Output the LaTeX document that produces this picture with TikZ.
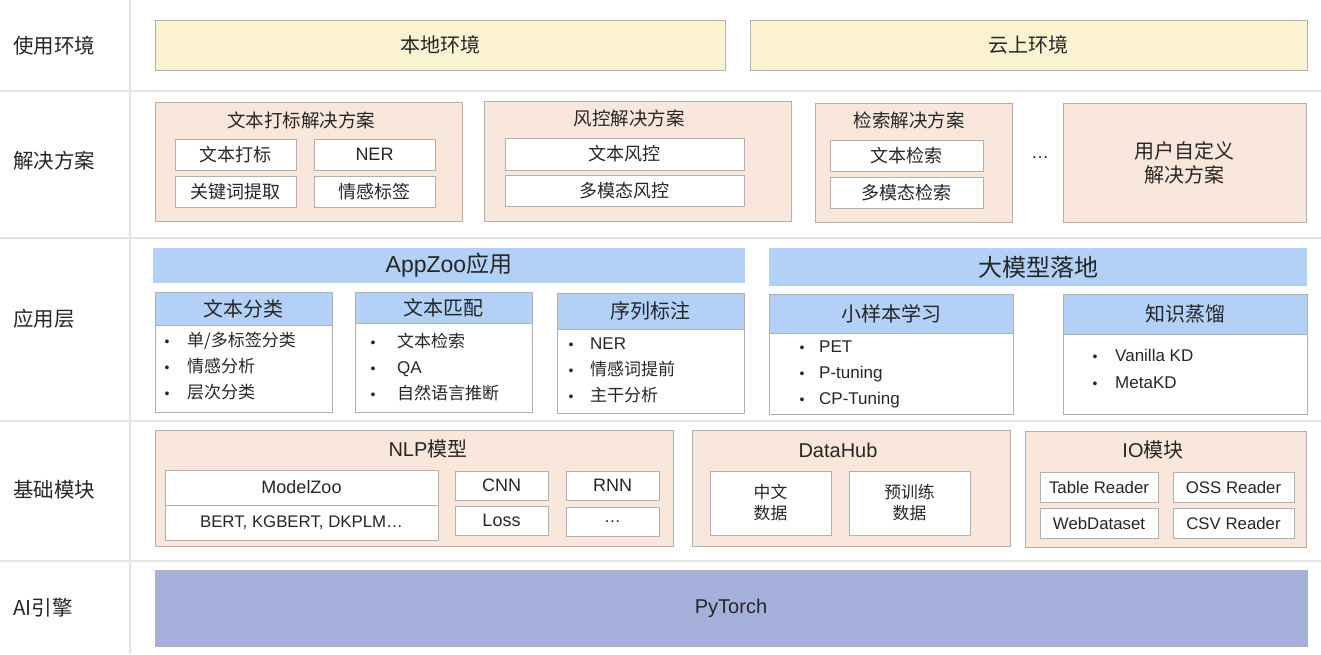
\documentclass[tikz,border=0pt]{standalone}
\usepackage{fontspec}
\setmainfont{Liberation Sans}
\newfontfamily\cjk{Noto Sans CJK SC}
\definecolor{peach}{HTML}{F8E7DA}
\definecolor{yel}{HTML}{FBF2D1}
\definecolor{lblue}{HTML}{B3D0F6}
\definecolor{torch}{HTML}{A4B0DA}
\definecolor{bord}{HTML}{B0B0B0}
\definecolor{sepc}{HTML}{E4E4E4}
\definecolor{txt}{HTML}{262626}
\newcommand\fLbl{\fontsize{20.5}{24}\selectfont}
\newcommand\fEnv{\fontsize{20}{24}\selectfont}
\newcommand\fIn{\fontsize{18}{21}\selectfont}
\newcommand\fTi{\fontsize{18.5}{22}\selectfont}
\newcommand\fTb{\fontsize{20}{24}\selectfont}
\newcommand\fSm{\fontsize{16.8}{21}\selectfont}
\newcommand\fBl{\fontsize{17}{20}\selectfont}
\newcommand\fHd{\fontsize{20}{24}\selectfont}
\newcommand\bx[7]{\node[#2, anchor=north west, minimum width={(#5-#3)*1pt}, minimum height={(#6-#4)*1pt}] (#1) at (#3,#4) {#7};}
\newcommand\card[7]{%
  \bx{#1}{wbox}{#2}{#3}{#4}{#5}{}
  \bx{#1h}{hbox}{#2}{#3}{#4}{#6}{\fHd\cjk #7}}
\newcommand\blt[5]{\node[txtn, anchor=base, font=\fontsize{14}{16}\selectfont] (#1) at (#2,#4+6) {•};
  \node[txtn, anchor=base west, font=\fBl] (#1t) at (#3,#4+6) {#5};}
\begin{document}
\begin{tikzpicture}[x=1pt,y=-1pt,
  base/.style={draw=bord, line width=0.8pt, inner sep=0pt, outer sep=0pt, text=txt, align=center},
  ybox/.style={base, fill=yel, font=\fEnv\cjk},
  pbox/.style={base, fill=peach, font=\fIn},
  wbox/.style={base, fill=white, font=\fIn},
  hbox/.style={base, fill=lblue},
  bbar/.style={base, draw=none, fill=lblue},
  tbox/.style={base, fill=torch, font=\fHd},
  txtn/.style={inner sep=0pt, text=txt},
  lbl/.style={txtn, anchor=west, font=\fLbl\cjk},
  sepline/.style={draw=sepc, line width=1.2pt}]
\useasboundingbox (0,0) rectangle (1321,654);
\fill[white] (0,0) rectangle (1321,654);
% separators
\draw[sepline] (0,91) -- (1321,91);
\draw[sepline] (0,238) -- (1321,238);
\draw[sepline] (0,421) -- (1321,421);
\draw[sepline] (0,561) -- (1321,561);
\draw[sepline] (130,0) -- (130,654);
% row labels
\node[lbl] (l1) at (13,46) {使用环境};
\node[lbl] (l2) at (13,161) {解决方案};
\node[lbl] (l3) at (13,319) {应用层};
\node[lbl] (l4) at (13,490) {基础模块};
\node[lbl] (l5) at (13,608) {AI{\cjk 引擎}};
% row 1
\bx{env1}{ybox}{155}{20}{725}{70}{本地环境}
\bx{env2}{ybox}{750}{20}{1307}{70}{云上环境}
% row 2
\bx{s1}{pbox}{155}{102}{462}{221}{}
\node[txtn, font=\fTi\cjk] (s1t) at (301,120) {文本打标解决方案};
\bx{s1a}{wbox}{175}{139}{296}{170}{\cjk 文本打标}
\bx{s1b}{wbox}{314}{139}{435}{170}{NER}
\bx{s1c}{wbox}{175}{176}{296}{207}{\cjk 关键词提取}
\bx{s1d}{wbox}{314}{176}{435}{207}{\cjk 情感标签}
\bx{s2}{pbox}{484}{101}{791}{221}{}
\node[txtn, font=\fTi\cjk] (s2t) at (629,118) {风控解决方案};
\bx{s2a}{wbox}{505}{138}{744}{170}{\cjk 文本风控}
\bx{s2b}{wbox}{505}{175}{744}{206}{\cjk 多模态风控}
\bx{s3}{pbox}{815}{103}{1012}{222}{}
\node[txtn, font=\fTi\cjk] (s3t) at (909,120) {检索解决方案};
\bx{s3a}{wbox}{830}{140}{983}{171}{\cjk 文本检索}
\bx{s3b}{wbox}{830}{177}{983}{208}{\cjk 多模态检索}
\node[txtn, font=\fIn] (dots) at (1040,158) {…};
\bx{s4}{pbox,font=\fTb\cjk}{1063}{103}{1306}{222}{用户自定义\\解决方案}
% row 3
\bx{az}{bbar}{153}{248}{745}{283}{\fontsize{23}{26}\selectfont AppZoo{\cjk 应用}}
\bx{lm}{bbar}{769}{248}{1307}{286}{\fontsize{24}{27}\selectfont\cjk 大模型落地}
\card{c1}{155}{292}{332}{412}{325}{文本分类}
\blt{c1a}{167}{187}{340}{\cjk 单/多标签分类}
\blt{c1b}{167}{187}{366}{\cjk 情感分析}
\blt{c1c}{167}{187}{392}{\cjk 层次分类}
\card{c2}{355}{292}{532}{412}{323}{文本匹配}
\blt{c2a}{373}{397}{341}{\cjk 文本检索}
\blt{c2b}{373}{397}{367}{QA}
\blt{c2c}{373}{397}{393}{\cjk 自然语言推断}
\card{c3}{557}{293}{744}{413}{329}{序列标注}
\blt{c3a}{571}{590}{343}{NER}
\blt{c3b}{571}{590}{369}{\cjk 情感词提前}
\blt{c3c}{571}{590}{395}{\cjk 主干分析}
\card{c4}{769}{294}{1013}{414}{333}{小样本学习}
\blt{c4a}{802}{819}{346}{PET}
\blt{c4b}{802}{819}{372}{P-tuning}
\blt{c4c}{802}{819}{398}{CP-Tuning}
\card{c5}{1063}{294}{1307}{414}{334}{知识蒸馏}
\blt{c5a}{1095}{1115}{355}{Vanilla KD}
\blt{c5b}{1095}{1115}{382}{MetaKD}
% row 4
\bx{nlp}{pbox}{155}{430}{673}{546}{}
\node[txtn, font=\fTb] (nlpt) at (428,449) {NLP{\cjk 模型}};
\bx{mz}{wbox}{165}{470}{438}{505}{ModelZoo}
\bx{bert}{wbox}{165}{505}{438}{540}{\fSm BERT, KGBERT, DKPLM…}
\bx{cnn}{wbox}{455}{471}{548}{500}{CNN}
\bx{rnn}{wbox}{566}{471}{659}{500}{RNN}
\bx{loss}{wbox}{455}{506}{548}{535}{Loss}
\bx{etc}{wbox}{566}{507}{659}{536}{\fSm …}
\bx{dh}{pbox}{692}{430}{1010}{546}{}
\node[txtn, font=\fTb] (dht) at (838,450) {DataHub};
\bx{zh}{wbox,font=\fSm\cjk}{710}{471}{831}{535}{中文\\数据}
\bx{pre}{wbox,font=\fSm\cjk}{849}{471}{970}{535}{预训练\\数据}
\bx{io}{pbox}{1025}{431}{1306}{547}{}
\node[txtn, font=\fTb] (iot) at (1153,450) {IO{\cjk 模块}};
\bx{tr}{wbox}{1040}{472}{1158}{502}{\fSm Table Reader}
\bx{oss}{wbox}{1173}{472}{1294}{502}{\fSm OSS Reader}
\bx{web}{wbox}{1040}{508}{1158}{538}{\fSm WebDataset}
\bx{csv}{wbox}{1173}{508}{1294}{538}{\fSm CSV Reader}
% row 5
\bx{pt}{tbox}{155}{570}{1307}{646}{PyTorch}
\end{tikzpicture}
\end{document}
